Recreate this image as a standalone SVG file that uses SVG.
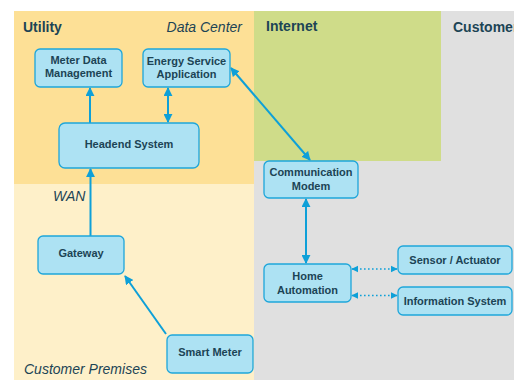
<svg xmlns="http://www.w3.org/2000/svg" width="514" height="380" viewBox="0 0 514 380">
<style>
.node{fill:#ADE2F3;stroke:#1EA6DA;stroke-width:1.3}
.nt{font-family:"Liberation Sans",Arial,sans-serif;font-size:11px;font-weight:bold;fill:#1C4455;text-anchor:middle}
.zt{font-family:"Liberation Sans",Arial,sans-serif;font-size:14px;font-weight:bold;fill:#1C4455}
.zi{font-family:"Liberation Sans",Arial,sans-serif;font-size:14px;font-style:italic;fill:#1C4455}
.ln{stroke:#0EA0D8;stroke-width:2;fill:none}
.dl{stroke:#0EA0D8;stroke-width:1.6;fill:none;stroke-dasharray:1.6 2.4}
</style>
<defs>
<marker id="a" viewBox="0 0 10 10" refX="9" refY="5" markerWidth="4.5" markerHeight="4.5" orient="auto-start-reverse" markerUnits="strokeWidth">
<path d="M0,0L10,5L0,10z" fill="#0EA0D8"/>
</marker>
<marker id="s" viewBox="0 0 10 10" refX="9" refY="5" markerWidth="4.5" markerHeight="4.5" orient="auto-start-reverse" markerUnits="strokeWidth">
<path d="M0,0L10,5L0,10z" fill="#0EA0D8"/>
</marker>
</defs>
<rect width="514" height="380" fill="#FFFFFF"/>
<g id="zones">
<rect x="14" y="11" width="240" height="173" fill="#FDE096"/>
<rect x="14" y="184" width="240" height="196" fill="#FEF0C9"/>
<rect x="254" y="11" width="260" height="369" fill="#E0E0E0"/>
<rect x="254" y="11" width="187" height="150" fill="#CFDC89"/>
<text class="zt" x="23" y="32">Utility</text>
<text class="zi" x="242" y="32" text-anchor="end">Data Center</text>
<text class="zt" x="266" y="31">Internet</text>
<text class="zt" x="453" y="32">Customer</text>
<text class="zi" x="53" y="201">WAN</text>
<text class="zi" x="24" y="374">Customer Premises</text>
</g>
<g id="connectors">
<line class="ln" x1="90" y1="123" x2="90" y2="88" marker-end="url(#a)"/>
<line class="ln" x1="168" y1="122" x2="168" y2="88" marker-start="url(#a)" marker-end="url(#a)"/>
<line class="ln" x1="90.5" y1="236" x2="90.5" y2="169" marker-end="url(#a)"/>
<line class="ln" x1="166" y1="334" x2="125" y2="276" marker-end="url(#a)"/>
<line class="ln" x1="231" y1="68" x2="310" y2="160" marker-start="url(#a)" marker-end="url(#a)"/>
<line class="ln" x1="306" y1="199" x2="306" y2="263" marker-start="url(#a)" marker-end="url(#a)"/>
<line class="dl" x1="352" y1="269" x2="397" y2="269" marker-start="url(#s)" marker-end="url(#s)"/>
<line class="dl" x1="352" y1="295.5" x2="397" y2="295.5" marker-start="url(#s)" marker-end="url(#s)"/>
</g>
<g id="mdm"><rect class="node" x="35" y="49" width="87" height="38" rx="5"/><text class="nt" x="78.5" y="64">Meter Data</text><text class="nt" x="78.5" y="77">Management</text></g>
<g id="esa"><rect class="node" x="143" y="49" width="87" height="38" rx="5"/><text class="nt" x="186.5" y="65">Energy Service</text><text class="nt" x="186.5" y="78">Application</text></g>
<g id="headend"><rect class="node" x="59" y="123" width="140" height="45" rx="6"/><text class="nt" x="129" y="148">Headend System</text></g>
<g id="gateway"><rect class="node" x="38" y="236" width="86" height="38" rx="5"/><text class="nt" x="81" y="257">Gateway</text></g>
<g id="smartmeter"><rect class="node" x="167" y="335" width="86" height="38" rx="5"/><text class="nt" x="210" y="356">Smart Meter</text></g>
<g id="modem"><rect class="node" x="264" y="161" width="94" height="37" rx="5"/><text class="nt" x="311" y="176">Communication</text><text class="nt" x="311" y="190">Modem</text></g>
<g id="home"><rect class="node" x="264" y="264" width="87" height="38" rx="5"/><text class="nt" x="307.5" y="280">Home</text><text class="nt" x="307.5" y="294">Automation</text></g>
<g id="sensor"><rect class="node" x="398" y="246" width="114" height="28" rx="5"/><text class="nt" x="455" y="264">Sensor / Actuator</text></g>
<g id="infosys"><rect class="node" x="398" y="287" width="114" height="28" rx="5"/><text class="nt" x="455" y="305">Information System</text></g>
</svg>
